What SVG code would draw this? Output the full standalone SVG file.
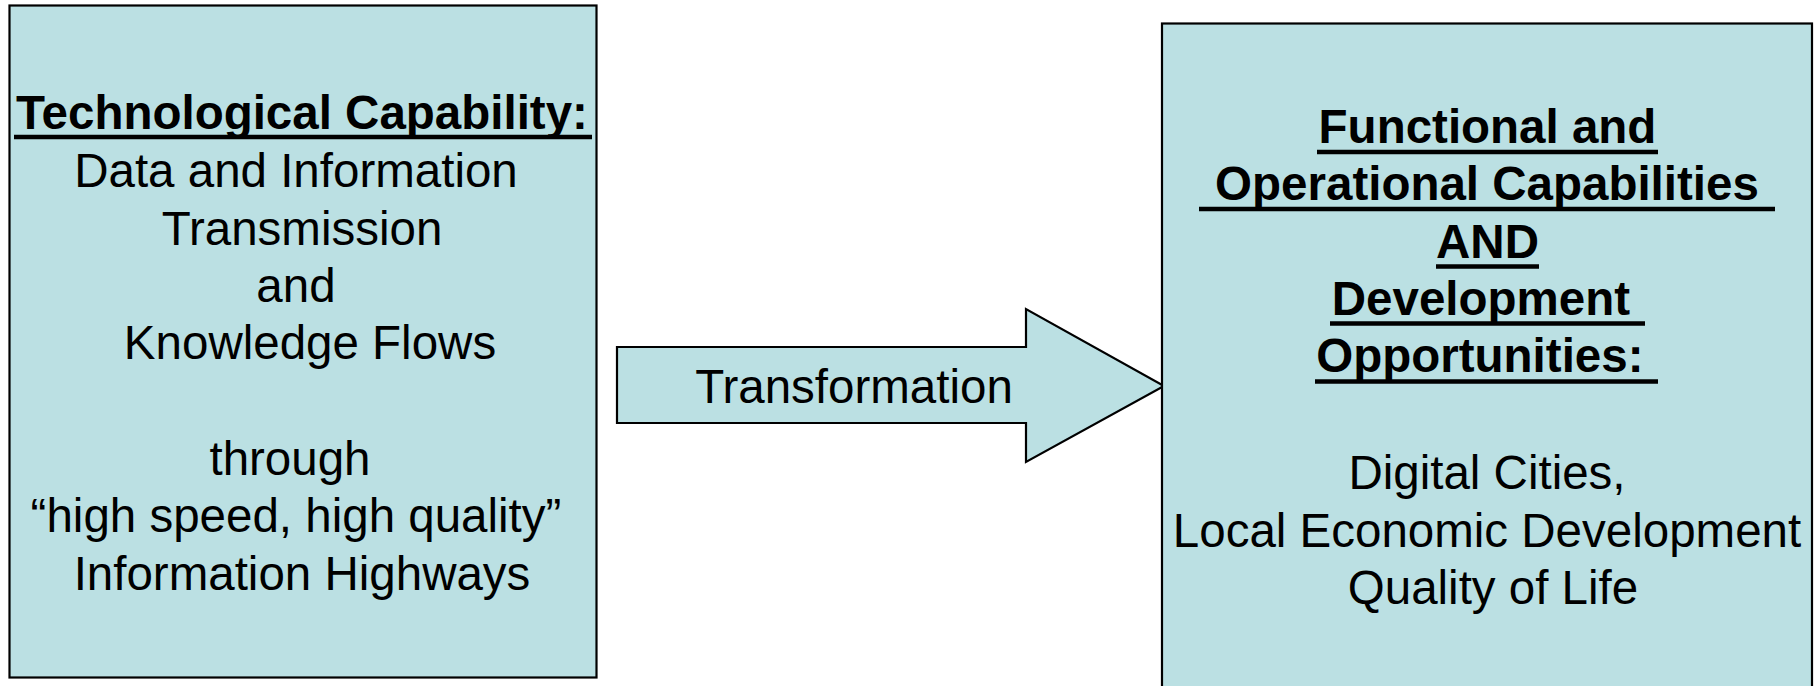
<svg xmlns="http://www.w3.org/2000/svg" width="1814" height="686" viewBox="0 0 1814 686">
  <style>
    .box { fill: #BBE0E3; stroke: #000; stroke-width: 2.2; }
    .t { font-family: "Liberation Sans", Arial, sans-serif; font-size: 47.5px; fill: #000; text-anchor: middle; }
    .b { font-weight: bold; }
    .ul { stroke: #000; stroke-width: 4.5; }
  </style>
  <rect width="1814" height="686" fill="#fff"/>

  <!-- Source: technological capability -->
  <g id="node-technological-capability">
    <rect class="box" x="9.5" y="5.5" width="587" height="672"/>
    <text class="t b" x="302" y="129">Technological Capability:</text>
    <line class="ul" x1="14" y1="137" x2="592" y2="137"/>
    <text class="t" x="296" y="187">Data and Information</text>
    <text class="t" x="302" y="245">Transmission</text>
    <text class="t" x="296" y="302">and</text>
    <text class="t" x="310" y="359">Knowledge Flows</text>
    <text class="t" x="290" y="475">through</text>
    <text class="t" x="296" y="532">“high speed, high quality”</text>
    <text class="t" x="302" y="590">Information Highways</text>
  </g>

  <!-- Connector: block arrow -->
  <g id="connectors">
    <g id="edge-transformation">
      <polygon class="box" points="617,347 1026,347 1026,309 1164,386 1026,462 1026,423 617,423"/>
      <text class="t" x="854" y="403">Transformation</text>
    </g>
  </g>

  <!-- Target: functional and operational capabilities -->
  <g id="node-functional-capabilities">
    <rect class="box" x="1162" y="23.5" width="650" height="700"/>
    <text class="t b" x="1487.5" y="143">Functional and</text>
    <line class="ul" x1="1317" y1="152" x2="1658" y2="152"/>
    <text class="t b" x="1487" y="200" xml:space="preserve"> Operational Capabilities </text>
    <line class="ul" x1="1199" y1="209" x2="1775" y2="209"/>
    <text class="t b" x="1487.5" y="258">AND</text>
    <line class="ul" x1="1436" y1="266.5" x2="1539" y2="266.5"/>
    <text class="t b" x="1487.5" y="315" xml:space="preserve">Development </text>
    <line class="ul" x1="1330" y1="323.5" x2="1645" y2="323.5"/>
    <text class="t b" x="1486.5" y="372" xml:space="preserve">Opportunities: </text>
    <line class="ul" x1="1315" y1="381.5" x2="1658" y2="381.5"/>
    <text class="t" x="1487" y="489">Digital Cities,</text>
    <text class="t" x="1487" y="547">Local Economic Development</text>
    <text class="t" x="1493" y="604">Quality of Life</text>
  </g>
</svg>
